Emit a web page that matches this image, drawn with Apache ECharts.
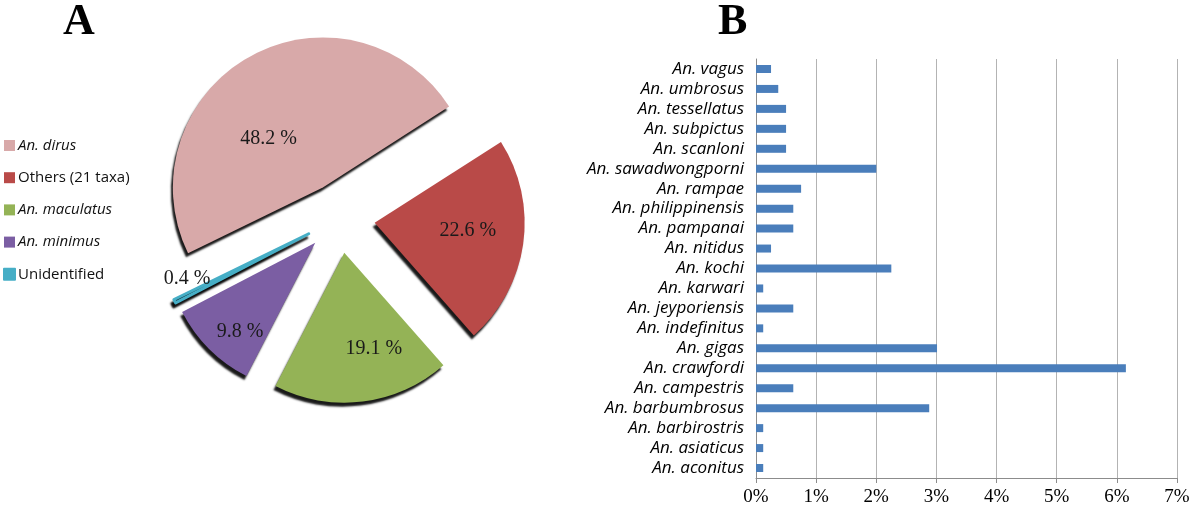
<!DOCTYPE html>
<html>
<head>
<meta charset="utf-8">
<script src="https://cdn.jsdelivr.net/npm/echarts@6/dist/echarts.min.js"></script>
<style>
html,body{margin:0;padding:0;background:#fff;}
#c{width:1200px;height:513px;}
</style>
</head>
<body>
<div id="c"></div>
<script>
// Panel A: composition (percent)
const pieNames = ['An. dirus', 'Others (21 taxa)', 'An. maculatus', 'An. minimus', 'Unidentified'];
const pieValues = [48.2, 22.6, 19.1, 9.8, 0.4];
const pieColors = ['#d8a9a9', '#b94a48', '#94b356', '#7b5ea3', '#46aec6'];
const italicNames = ['An. dirus', 'An. maculatus', 'An. minimus'];

// Panel B: species share (percent), bottom to top
const speciesNames = ['An. aconitus', 'An. asiaticus', 'An. barbirostris', 'An. barbumbrosus', 'An. campestris',
  'An. crawfordi', 'An. gigas', 'An. indefinitus', 'An. jeyporiensis', 'An. karwari', 'An. kochi',
  'An. nitidus', 'An. pampanai', 'An. philippinensis', 'An. rampae', 'An. sawadwongporni',
  'An. scanloni', 'An. subpictus', 'An. tessellatus', 'An. umbrosus', 'An. vagus'];
const speciesValues = [0.12, 0.12, 0.12, 2.88, 0.62,
  6.15, 3.01, 0.12, 0.62, 0.12, 2.25,
  0.25, 0.62, 0.62, 0.75, 2.0,
  0.5, 0.5, 0.5, 0.37, 0.25];
const xTicks = [0, 1, 2, 3, 4, 5, 6, 7];

const chart = echarts.init(document.getElementById('c'), null, {renderer: 'canvas'});

// label nudges (style only) for the inner pie labels, by slice order
const labelShift = [[-16, 19], [16, -3], [20, 19], [-20, 34], [-52, 10]];

const pieData = pieNames.map((n, i) => {
  const d = {name: n, value: pieValues[i], selected: true,
    itemStyle: {color: pieColors[i]}};
  if (n === 'Unidentified') {
    d.itemStyle.borderColor = pieColors[i];
    d.itemStyle.borderWidth = 3;
  }
  return d;
});

const option = {
  animation: false,
  title: [
    {text: 'A', left: 58, top: -4, textStyle: {fontFamily: 'Liberation Serif', fontWeight: 'bold', fontSize: 44, color: '#000'}},
    {text: 'B', left: 713, top: -4, textStyle: {fontFamily: 'Liberation Serif', fontWeight: 'bold', fontSize: 44, color: '#000'}}
  ],
  legend: {
    data: pieNames,
    orient: 'vertical',
    left: 3,
    top: 138,
    padding: 0,
    itemWidth: 11,
    itemHeight: 11,
    itemGap: 17.2,
    icon: 'rect',
    selectedMode: false,
    formatter: function (name) {
      return italicNames.indexOf(name) >= 0 ? '{i|' + name + '}' : '{n|' + name + '}';
    },
    textStyle: {
      fontFamily: 'Open Sans', fontSize: 15, color: '#111', padding: [0, 0, 0, -2],
      rich: {
        i: {fontFamily: 'Open Sans', fontSize: 15, fontStyle: 'italic', color: '#111', lineHeight: 14},
        n: {fontFamily: 'Open Sans', fontSize: 15, color: '#111', lineHeight: 14}
      }
    }
  },
  grid: {left: 756, right: 23, top: 59, bottom: 35, containLabel: false},
  xAxis: {
    type: 'value', min: 0, max: 7, interval: 1,
    axisLine: {show: true, lineStyle: {color: '#8c8c8c', width: 1}},
    axisTick: {show: true, length: 5, lineStyle: {color: '#8c8c8c'}},
    splitLine: {show: true, lineStyle: {color: '#b3b3b3', width: 1}},
    axisLabel: {
      formatter: function (v) { return xTicks.indexOf(v) >= 0 ? v + '%' : ''; },
      fontFamily: 'Liberation Serif', fontSize: 19, color: '#000', margin: 10
    }
  },
  yAxis: {
    type: 'category', data: speciesNames,
    axisLine: {show: true, lineStyle: {color: '#8c8c8c', width: 1}},
    axisTick: {show: false},
    axisLabel: {interval: 0, fontFamily: 'Open Sans', fontStyle: 'italic', fontSize: 17, color: '#000', margin: 12, hideOverlap: false}
  },
  series: [
    {
      type: 'pie',
      center: [340, 218],
      radius: [0, 150],
      startAngle: 206,
      clockwise: true,
      selectedMode: 'multiple',
      selectedOffset: 35,
      avoidLabelOverlap: false,
      data: pieData,
      itemStyle: {
        shadowColor: 'rgba(0,0,0,0.9)', shadowBlur: 2, shadowOffsetX: -2, shadowOffsetY: 4
      },
      label: {
        show: true, position: 'inner',
        formatter: '{c} %',
        fontFamily: 'Liberation Serif', fontSize: 20, color: '#1a1a1a'
      },
      labelLayout: function (p) {
        const s = labelShift[p.dataIndex] || [0, 0];
        return {dx: s[0], dy: s[1]};
      },
      labelLine: {show: false},
      emphasis: {disabled: true}
    },
    {
      type: 'bar',
      data: speciesValues,
      barWidth: 8,
      itemStyle: {color: '#4a7ebb'},
      silent: true
    }
  ]
};
chart.setOption(option);
</script>
</body>
</html>
